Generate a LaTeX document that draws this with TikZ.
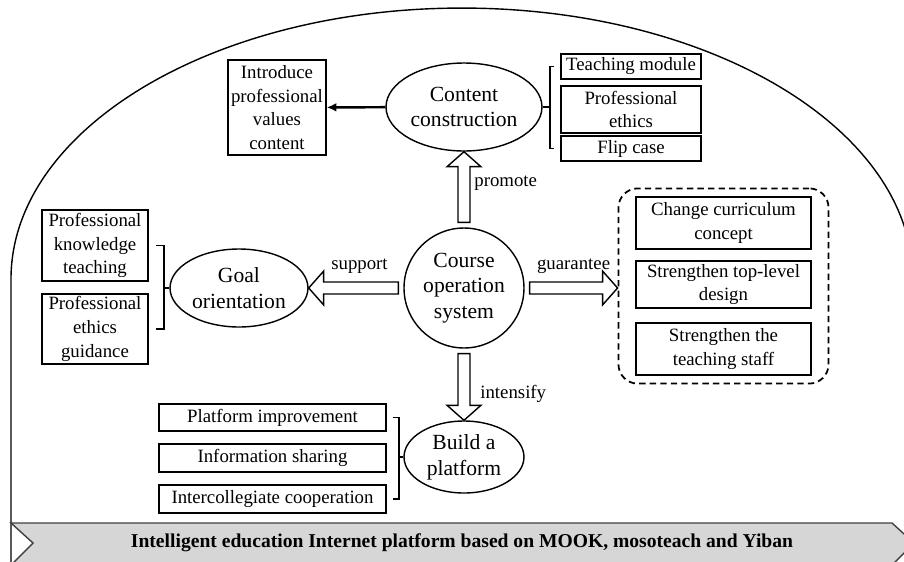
\documentclass[tikz,border=0pt]{standalone}
\usepackage{fontspec}
\setmainfont{Liberation Serif}
\usepackage{tikz}
\usetikzlibrary{shapes.geometric,calc,fit,arrows.meta}
\tikzset{
	every item/.style={
		rectangle,
		draw,
		line width=0.8pt,
		inner sep=0pt,
		align=center,
		font=\fontsize{10.7}{13.5}\selectfont
	},
	every topic/.style={
		ellipse,
		draw,
		line width=0.8pt,
		inner sep=0pt,
		align=center,
		font=\fontsize{12.3}{14.7}\selectfont
	},
	hollow arrow/.style={
		draw,
		fill=white,
		line width=0.8pt,
		line join=miter
	},
	arrow label/.style={
		inner sep=0pt,
		font=\fontsize{10.7}{13.5}\selectfont
	},
	bracket/.style={
		line width=1.1pt
	},
}
\newcommand{\blockArrow}[4]{%
	\coordinate (arrowStart) at ($(#1)!2.8pt!(#2)$);
	\coordinate (arrowBase) at ($(#2)!8.5pt!(#1)$);
	\draw[hollow arrow] ($(arrowStart)!3.4pt!90:(#2)$) -- ($(arrowBase)!3.4pt!90:(#2)$)
		-- ($(arrowBase)!9.6pt!90:(#2)$) -- (#2) -- ($(arrowBase)!9.6pt!-90:(#2)$)
		-- ($(arrowBase)!3.4pt!-90:(#2)$) -- ($(arrowStart)!3.4pt!-90:(#2)$) -- cycle;
	\path (arrowStart) -- (#2) node[arrow label, pos=0.5, #3] {#4};
}

\begin{document}
\begin{tikzpicture}[x=0.02cm,y=-0.02cm]
\tikzset{item/.style={every item, minimum width=#1}}
\tikzset{platform bar/.style={fill=black!16, draw=black!75, line width=0.8pt}}
\useasboundingbox (0,0) rectangle (904,562);

\draw[line width=0.8pt] (11,570) -- (11,279) arc[start angle=180, end angle=0, x radius=9.02cm, y radius=5.42cm];
\draw[platform bar] (11,523) -- (892,523) -- (914,543) -- (892,565) -- (11,565) -- (33,543) -- cycle;
\node[font=\bfseries\fontsize{11.15}{13}\selectfont] (platformBase) at (462,543)
	{Intelligent education Internet platform based on MOOK, mosoteach and Yiban};

\node[every topic, circle, minimum size=2.4cm] (courseSystem) at (464,288) {Course\\operation\\system};
	\node[every topic, minimum width=3.12cm, minimum height=1.76cm] (contentConstruction) at (464,107) {Content\\construction};
		\node[item=1.96cm, minimum height=1.9cm] (introduceValues) at (277,107.5) {Introduce\\professional\\values\\content};
		\node[item=2.8cm, minimum height=0.5cm] (teachingModule) at (631,66.5) {Teaching module};
		\node[item=2.8cm, minimum height=0.94cm] (professionalEthics) at (631,109.5) {Professional\\ethics};
		\node[item=2.8cm, minimum height=0.5cm] (flipCase) at (631,148.5) {Flip case};
	\node[every topic, minimum width=2.76cm, minimum height=1.56cm] (goalOrientation) at (239,288) {Goal\\orientation};
		\node[item=2.12cm, minimum height=1.42cm] (knowledgeTeaching) at (95,245.5) {Professional\\knowledge\\teaching};
		\node[item=2.12cm, minimum height=1.4cm] (ethicsGuidance) at (95,329) {Professional\\ethics\\guidance};
	\node[every topic, minimum width=2.4cm, minimum height=1.44cm] (buildPlatform) at (464,457) {Build a\\platform};
		\node[item=4.54cm, minimum height=0.54cm] (platformImprovement) at (272.5,417.5) {Platform improvement};
		\node[item=4.54cm, minimum height=0.56cm] (informationSharing) at (272.5,458) {Information sharing};
		\node[item=4.54cm, minimum height=0.56cm] (intercollegiateCooperation) at (272.5,499) {Intercollegiate cooperation};
		\node[item=3.5cm, minimum height=1.04cm] (changeConcept) at (723.5,223) {Change curriculum\\concept};
		\node[item=3.5cm, minimum height=0.94cm] (topLevelDesign) at (723.5,284.5) {Strengthen top-level\\design};
		\node[item=3.5cm, minimum height=1.04cm] (teachingStaff) at (723.5,349) {Strengthen the\\teaching staff};
	\node[draw, line width=1pt, dash pattern=on 3.6pt off 2.4pt, rounded corners=11pt, inner xsep=9.6pt, inner ysep=4.5pt,
		fit=(changeConcept)(topLevelDesign)(teachingStaff)] (guaranteeBox) {};

\draw[line width=1.4pt, -{Latex[length=5.5pt,width=5pt]}] (contentConstruction) -- (introduceValues);

\draw[bracket] ([xshift=-3.4pt]teachingModule.west) -- ([xshift=-5.7pt]teachingModule.west) |- ([xshift=-3.4pt]flipCase.west);
\draw[bracket] (contentConstruction.east) -- ([xshift=-5.7pt]teachingModule.west |- contentConstruction.east);
\draw[bracket] ([xshift=4pt]knowledgeTeaching.east) -- ([xshift=8.5pt]knowledgeTeaching.east) |- ([xshift=4pt]ethicsGuidance.east);
\draw[bracket] (goalOrientation.west) -- ([xshift=8.5pt]knowledgeTeaching.east |- goalOrientation.west);
\draw[bracket] ([xshift=3.4pt]platformImprovement.east) -- ([xshift=6.8pt]platformImprovement.east) |- ([xshift=3.4pt]intercollegiateCooperation.east);
\draw[bracket] (buildPlatform.west) -- ([xshift=6.8pt]platformImprovement.east |- buildPlatform.west);

\coordinate (guaranteeTip) at (guaranteeBox.west |- courseSystem.east);
\blockArrow{courseSystem.north}{contentConstruction.south}{anchor=west, xshift=5.7pt, yshift=2.3pt}{promote}
\blockArrow{courseSystem.west}{goalOrientation.east}{anchor=south, xshift=3.4pt, yshift=7.9pt}{support}
\blockArrow{courseSystem.east}{guaranteeTip}{anchor=south, yshift=7.9pt}{guarantee}
\blockArrow{courseSystem.south}{buildPlatform.north}{anchor=west, xshift=9.1pt, yshift=-4pt}{intensify}
\end{tikzpicture}
\end{document}
